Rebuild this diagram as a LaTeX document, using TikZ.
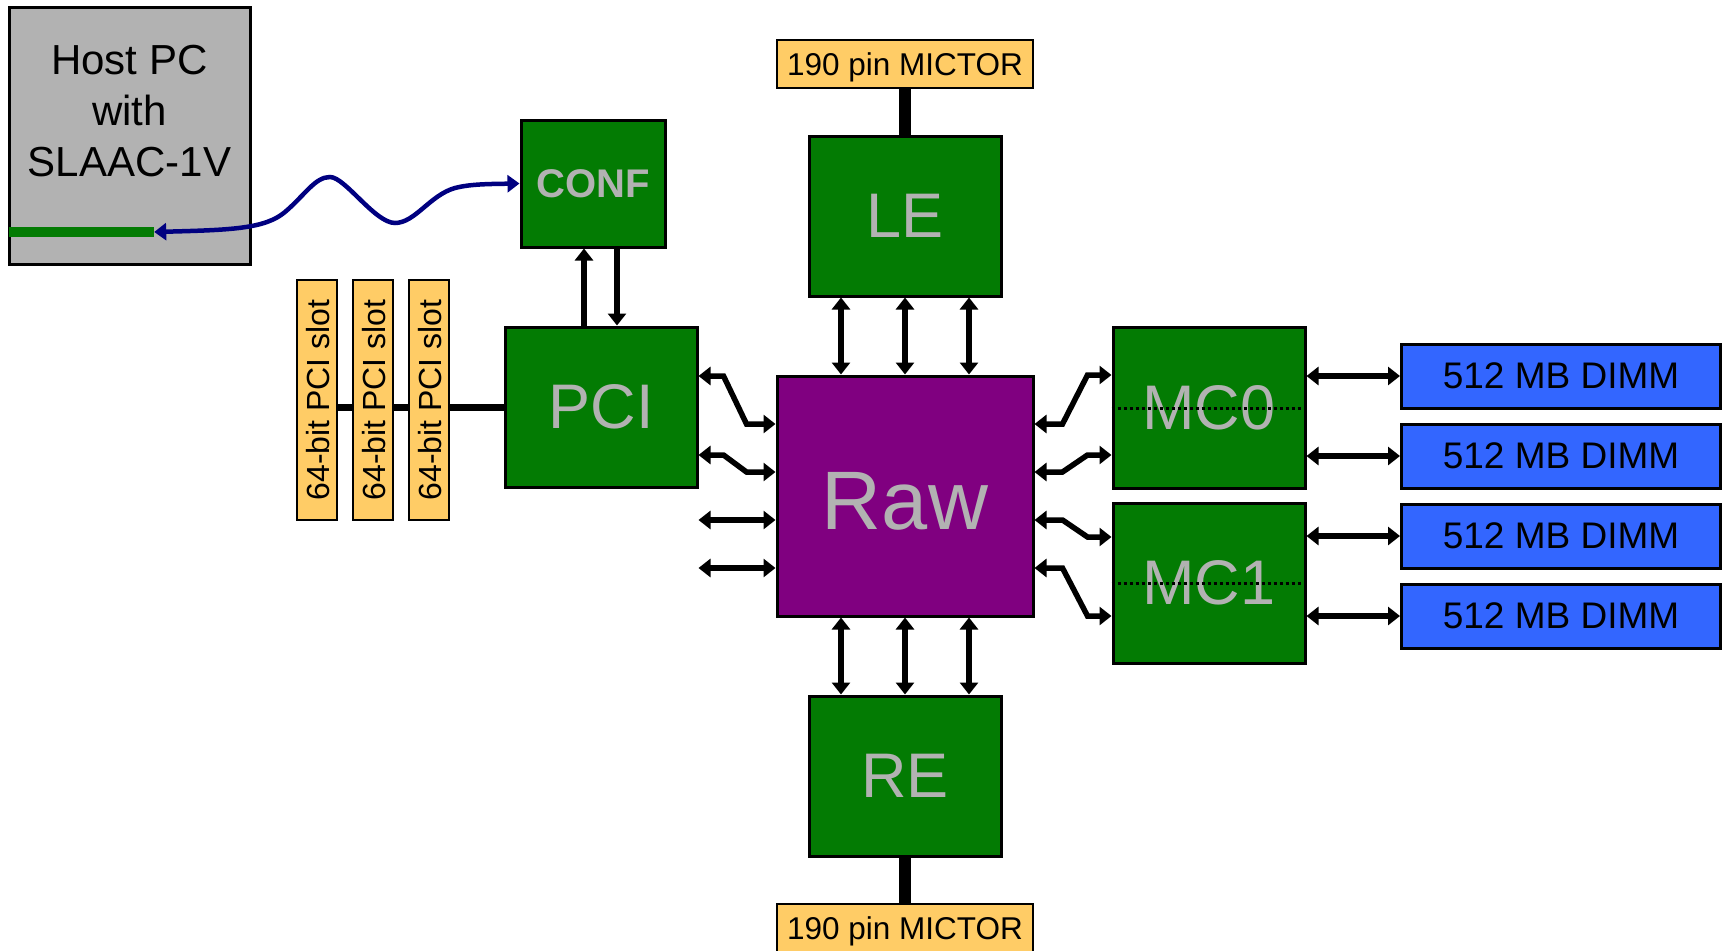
\documentclass[tikz,border=0pt]{standalone}
\usepackage{fontspec}
\setmainfont{Liberation Sans}
\usetikzlibrary{arrows.meta,backgrounds,calc}
\definecolor{boxgreen}{RGB}{3,123,3}
\definecolor{txtgray}{RGB}{178,178,178}
\definecolor{hostgray}{RGB}{178,178,178}
\definecolor{rawpurple}{RGB}{128,0,128}
\definecolor{slotorange}{RGB}{255,204,102}
\definecolor{dimmblue}{RGB}{51,102,255}
\definecolor{wavenavy}{RGB}{0,0,128}
\tikzset{
  gbox/.style={draw=black,line width=3pt,fill=boxgreen,minimum width=192pt,minimum height=160pt,inner sep=0pt,text=txtgray,font=\fontsize{63}{63}\selectfont},
  obox/.style={draw=black,line width=2.5pt,fill=slotorange,inner sep=0pt,text=black},
  dimm/.style={draw=black,line width=3pt,fill=dimmblue,minimum width=319pt,minimum height=64pt,inner sep=0pt,text depth=0pt,font=\fontsize{37}{37}\selectfont},
  tip/.tip={Triangle[length=12pt,width=18pt]},
  dbl/.style={line width=5.5pt,tip-tip},
  sarr/.style={line width=5.5pt,-tip},
  bus/.style={line width=7pt},
  thickbus/.style={line width=12pt},
  dots/.style={line width=3pt,dash pattern=on 3pt off 3pt},
  wave/.style={draw=wavenavy,line width=4.5pt,{Triangle[length=12pt,width=17pt]}-{Triangle[length=12pt,width=17pt]}}
}
\begin{document}
\begin{tikzpicture}[x=1pt,y=-1pt]
\useasboundingbox (0,0) rectangle (1728,950);
% host PC
\node[draw=black,line width=3pt,fill=hostgray,minimum width=241pt,minimum height=256pt,inner sep=0pt] (host) at (129.5,136) {};
\node[align=center,font=\fontsize{42}{51}\selectfont,inner sep=0pt] (hosttxt) at (129.5,111) {Host PC\\with\\SLAAC-1V};
\node[fill=boxgreen,minimum width=145pt,minimum height=10pt,inner sep=0pt] (bar) at (81.5,232) {};
% CONF
\node[gbox,minimum width=144pt,minimum height=127pt,font=\fontsize{40}{40}\selectfont\bfseries] (conf) at (593,183.5) {CONF};
% PCI
\node[gbox] (pci) at (601,407) {PCI};
% slots
\foreach \i/\x in {1/317,2/373,3/429}{
  \node[obox,minimum width=40pt,minimum height=240pt] (slot\i) at (\x,400) {};
  \node[rotate=90,font=\fontsize{32}{32}\selectfont,inner sep=0pt] (slottxt\i) at (\x+1,400) {64-bit PCI slot};
}
% Raw
\node[draw=black,line width=3pt,fill=rawpurple,minimum width=256pt,minimum height=240pt,inner sep=0pt,text=txtgray,font=\fontsize{83}{83}\selectfont] (raw) at (905,496) {\raisebox{-5pt}[\height][\depth]{Raw}};
% LE / RE
\node[gbox] (le) at (905,216) {LE};
\node[gbox] (re) at (905,776) {RE};
\node[obox,minimum width=256pt,minimum height=48pt,text depth=0pt,font=\fontsize{31.5}{31.5}\selectfont] (mtop) at (905,64) {190 pin MICTOR};
\node[obox,minimum width=256pt,minimum height=48pt,text depth=0pt,font=\fontsize{31.5}{31.5}\selectfont] (mbot) at (905,928) {190 pin MICTOR};
% MC
\node[gbox,minimum width=192pt,minimum height=161pt] (mc0) at (1209,408) {MC0};
\node[gbox,minimum width=192pt,minimum height=160pt] (mc1) at (1209,583) {MC1};
\draw[dots] (mc0.west) -- ([xshift=-4pt]mc0.east);
\draw[dots] (mc1.west) -- ([xshift=-4pt]mc1.east);
% DIMMs
\node[dimm] (d1) at (1561,376) {512 MB DIMM};
\node[dimm] (d2) at (1561,456) {512 MB DIMM};
\node[dimm] (d3) at (1561,536) {512 MB DIMM};
\node[dimm] (d4) at (1561,616) {512 MB DIMM};
% bus behind slots
\begin{scope}[on background layer]
\draw[bus] (slot1.center |- pci.west) -- (pci.west);
\end{scope}
% wave
\draw[wave] (bar.east) .. controls (230,230) and (265,229) .. (285,212)
  .. controls (305,195) and (315,177) .. (330,177)
  .. controls (345,177) and (375,223) .. (395,223)
  .. controls (415,223) and (430,195) .. (455,188)
  .. controls (470,184) and (490,184) .. (conf.west);
% CONF <-> PCI
\draw[sarr] ([xshift=-17pt]pci.north) -- ([xshift=-17pt]pci.north |- conf.south);
\draw[sarr] ([xshift=16pt]pci.north |- conf.south) -- ([xshift=16pt]pci.north);
% MICTOR links
\draw[thickbus] (mtop.south) -- (le.north);
\draw[thickbus] (re.south) -- (mbot.north);
% LE/RE <-> Raw
\foreach \s in {-64,0,64}{
  \draw[dbl] ([xshift=\s pt]le.south) -- ([xshift=\s pt]raw.north);
  \draw[dbl] ([xshift=\s pt]raw.south) -- ([xshift=\s pt]re.north);
}
% PCI <-> Raw
\draw[dbl] ([yshift=31pt]pci.east) -- ++(25,0) -- ([xshift=-29pt,yshift=72pt]raw.west) -- ([yshift=72pt]raw.west);
\draw[dbl] ([yshift=-48pt]pci.east) -- ++(25,0) -- ([xshift=-29pt,yshift=24pt]raw.west) -- ([yshift=24pt]raw.west);
\coordinate (l3) at (pci.east |- {$(raw.west)+(0,24)$});
\coordinate (l4) at (pci.east |- {$(raw.west)+(0,72)$});
\draw[dbl] (l3) -- ([yshift=-24pt]raw.west);
\draw[dbl] (l4) -- ([yshift=-72pt]raw.west);
% Raw <-> MC
\draw[dbl] ([yshift=72pt]raw.east) -- ++(28,0) -- ([xshift=-24pt,yshift=33pt]mc0.west) -- ([yshift=33pt]mc0.west);
\draw[dbl] ([yshift=24pt]raw.east) -- ++(28,0) -- ([xshift=-24pt,yshift=-47pt]mc0.west) -- ([yshift=-47pt]mc0.west);
\draw[dbl] ([yshift=-24pt]raw.east) -- ++(28,0) -- ([xshift=-24pt,yshift=46pt]mc1.west) -- ([yshift=46pt]mc1.west);
\draw[dbl] ([yshift=-72pt]raw.east) -- ++(28,0) -- ([xshift=-24pt,yshift=-33pt]mc1.west) -- ([yshift=-33pt]mc1.west);
% MC <-> DIMM
\draw[dbl] (mc0.east |- d1) -- (d1.west);
\draw[dbl] (mc0.east |- d2) -- (d2.west);
\draw[dbl] (mc1.east |- d3) -- (d3.west);
\draw[dbl] (mc1.east |- d4) -- (d4.west);
\end{tikzpicture}
\end{document}
